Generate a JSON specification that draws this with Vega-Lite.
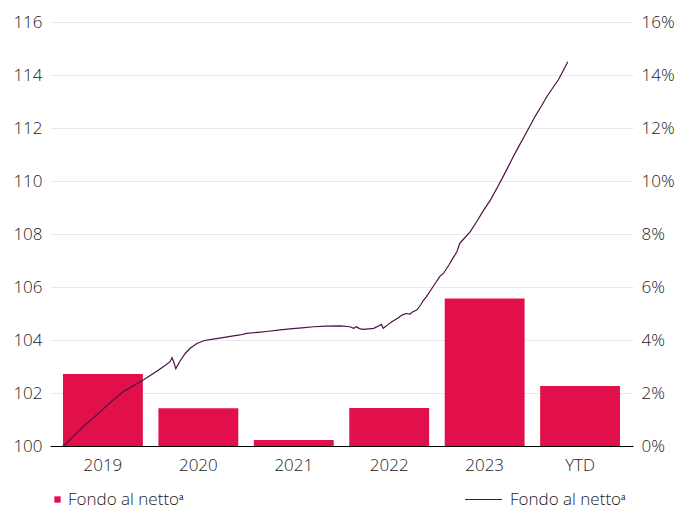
{
  "$schema": "https://vega.github.io/schema/vega-lite/v6.json",
  "width": 583,
  "height": 424,
  "autosize": {"type": "none"},
  "padding": {"left": 50, "top": 22, "right": 53, "bottom": 65},
  "background": "white",
  "config": {
    "font": "Open Sans",
    "view": {"stroke": null},
    "axis": {"labelFont": "Open Sans", "labelFontSize": 17, "labelFontWeight": 300, "labelColor": "#1a1a1a", "title": null, "ticks": false, "domain": false},
    "legend": {"labelFont": "Open Sans", "labelFontSize": 17, "labelFontWeight": 300, "labelColor": "#1a1a1a", "padding": 0, "title": null}
  },
  "datasets": {
    "bars": [
      {"period": "2019", "ret": 0.0272, "series": "Fondo al nettoᵃ"},
      {"period": "2020", "ret": 0.0142, "series": "Fondo al nettoᵃ"},
      {"period": "2021", "ret": 0.0023, "series": "Fondo al nettoᵃ"},
      {"period": "2022", "ret": 0.0143, "series": "Fondo al nettoᵃ"},
      {"period": "2023", "ret": 0.0557, "series": "Fondo al nettoᵃ"},
      {"period": "YTD", "ret": 0.0226, "series": "Fondo al nettoᵃ"}
    ],
    "line": [
      {"t": 2019.00, "v": 100.00}, {"t": 2019.05, "v": 100.15}, {"t": 2019.12, "v": 100.40},
      {"t": 2019.23, "v": 100.79}, {"t": 2019.33, "v": 101.10}, {"t": 2019.44, "v": 101.46},
      {"t": 2019.53, "v": 101.75}, {"t": 2019.63, "v": 102.05}, {"t": 2019.74, "v": 102.28},
      {"t": 2019.84, "v": 102.49}, {"t": 2019.92, "v": 102.68}, {"t": 2020.00, "v": 102.87},
      {"t": 2020.06, "v": 103.02}, {"t": 2020.12, "v": 103.18}, {"t": 2020.14, "v": 103.33},
      {"t": 2020.16, "v": 103.15}, {"t": 2020.18, "v": 102.92}, {"t": 2020.22, "v": 103.18},
      {"t": 2020.28, "v": 103.50}, {"t": 2020.33, "v": 103.69}, {"t": 2020.40, "v": 103.87},
      {"t": 2020.48, "v": 103.98}, {"t": 2020.57, "v": 104.03}, {"t": 2020.64, "v": 104.07},
      {"t": 2020.75, "v": 104.14}, {"t": 2020.85, "v": 104.19}, {"t": 2020.92, "v": 104.25},
      {"t": 2021.04, "v": 104.29}, {"t": 2021.15, "v": 104.33}, {"t": 2021.27, "v": 104.38},
      {"t": 2021.40, "v": 104.43}, {"t": 2021.50, "v": 104.46}, {"t": 2021.62, "v": 104.50},
      {"t": 2021.75, "v": 104.52}, {"t": 2021.90, "v": 104.53}, {"t": 2022.00, "v": 104.50},
      {"t": 2022.04, "v": 104.44}, {"t": 2022.07, "v": 104.50}, {"t": 2022.10, "v": 104.43},
      {"t": 2022.14, "v": 104.40}, {"t": 2022.20, "v": 104.42}, {"t": 2022.25, "v": 104.44},
      {"t": 2022.30, "v": 104.53}, {"t": 2022.33, "v": 104.59}, {"t": 2022.35, "v": 104.44},
      {"t": 2022.40, "v": 104.58}, {"t": 2022.44, "v": 104.69}, {"t": 2022.50, "v": 104.82},
      {"t": 2022.55, "v": 104.95}, {"t": 2022.59, "v": 105.00}, {"t": 2022.63, "v": 104.98},
      {"t": 2022.66, "v": 105.07}, {"t": 2022.70, "v": 105.13}, {"t": 2022.74, "v": 105.32},
      {"t": 2022.77, "v": 105.50}, {"t": 2022.80, "v": 105.63}, {"t": 2022.87, "v": 106.01},
      {"t": 2022.94, "v": 106.39}, {"t": 2022.98, "v": 106.52}, {"t": 2023.04, "v": 106.85},
      {"t": 2023.08, "v": 107.10}, {"t": 2023.12, "v": 107.33}, {"t": 2023.15, "v": 107.65},
      {"t": 2023.20, "v": 107.85}, {"t": 2023.26, "v": 108.09}, {"t": 2023.33, "v": 108.48},
      {"t": 2023.40, "v": 108.90}, {"t": 2023.47, "v": 109.28}, {"t": 2023.55, "v": 109.80},
      {"t": 2023.64, "v": 110.42}, {"t": 2023.70, "v": 110.85}, {"t": 2023.76, "v": 111.26},
      {"t": 2023.82, "v": 111.65}, {"t": 2023.88, "v": 112.05}, {"t": 2023.94, "v": 112.45},
      {"t": 2024.00, "v": 112.80}, {"t": 2024.06, "v": 113.18}, {"t": 2024.12, "v": 113.50},
      {"t": 2024.18, "v": 113.81}, {"t": 2024.23, "v": 114.15}, {"t": 2024.28, "v": 114.50}
    ]
  },
  "layer": [
    {
      "data": {"name": "bars"},
      "mark": {"type": "bar"},
      "encoding": {
        "x": {
          "field": "period", "type": "nominal", "sort": null,
          "scale": {"paddingInner": 0.163, "paddingOuter": 0.136},
          "axis": {"orient": "bottom", "domain": true, "domainColor": "#000000", "domainWidth": 1.2, "labelPadding": 11, "labelAngle": 0}
        },
        "y": {
          "field": "ret", "type": "quantitative",
          "scale": {"domain": [0, 0.16]},
          "axis": {"orient": "right", "format": ".0%", "values": [0, 0.02, 0.04, 0.06, 0.08, 0.1, 0.12, 0.14, 0.16], "grid": false, "labelPadding": 8}
        },
        "color": {
          "field": "series", "type": "nominal",
          "scale": {"range": ["#e1104a"]},
          "legend": {"orient": "none", "legendX": -1, "legendY": 469, "symbolType": "square", "symbolSize": 40, "labelOffset": 2}
        }
      }
    },
    {
      "data": {"name": "line"},
      "mark": {"type": "line", "strokeWidth": 1.2},
      "encoding": {
        "x": {"field": "t", "type": "quantitative", "scale": {"domain": [2018.864, 2024.962], "nice": false, "zero": false}, "axis": null},
        "y": {
          "field": "v", "type": "quantitative",
          "scale": {"domain": [100, 116], "zero": false, "nice": false},
          "axis": {"orient": "left", "values": [100, 102, 104, 106, 108, 110, 112, 114, 116], "grid": true, "gridColor": "#e9e9e9", "gridWidth": 1, "labelPadding": 8}
        },
        "stroke": {
          "datum": "Fondo al nettoᵃ", "type": "nominal",
          "scale": {"range": ["#4a1245"]},
          "legend": {"orient": "none", "legendX": 414, "legendY": 458, "symbolType": "stroke", "symbolSize": 1369, "symbolStrokeWidth": 1.2, "labelOffset": 7}
        }
      }
    }
  ],
  "resolve": {"scale": {"x": "independent", "y": "independent"}}
}
